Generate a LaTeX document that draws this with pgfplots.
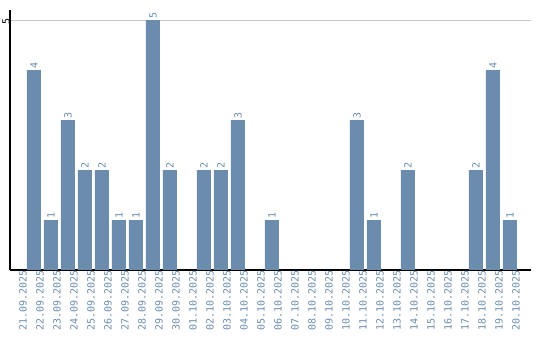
\documentclass[border=0pt]{standalone}
\usepackage{pgfplots}
\pgfplotsset{compat=1.18}
\usepackage{fontspec}
\setmonofont{DejaVu Sans Mono}
\definecolor{barc}{RGB}{107,140,173}
\definecolor{gridc}{RGB}{200,200,200}
\begin{document}
\begin{tikzpicture}
\path[use as bounding box] (0,0) rectangle (540bp,340bp);
\begin{axis}[
  at={(10bp,70bp)}, anchor=south west,
  scale only axis, width=521bp, height=260bp,
  xmin=-0.41, xmax=30.24, ymin=0, ymax=5.2,
  axis x line=bottom, axis y line=left,
  axis line style={-, black, line width=1.1pt},
  major tick length=0pt,
  ytick={5}, ymajorgrids, grid style={gridc, line width=0.8pt},
  xtick={0,...,29},
  xticklabels={21.09.2025,22.09.2025,23.09.2025,24.09.2025,25.09.2025,26.09.2025,27.09.2025,28.09.2025,29.09.2025,30.09.2025,01.10.2025,02.10.2025,03.10.2025,04.10.2025,05.10.2025,06.10.2025,07.10.2025,08.10.2025,09.10.2025,10.10.2025,11.10.2025,12.10.2025,13.10.2025,14.10.2025,15.10.2025,16.10.2025,17.10.2025,18.10.2025,19.10.2025,20.10.2025},
  x tick label style={rotate=90, anchor=east, font=\ttfamily\fontsize{10}{10}\selectfont, text=barc, inner sep=0pt, yshift=-6bp},
  y tick label style={rotate=90, anchor=south, font=\ttfamily\fontsize{10}{10}\selectfont, inner sep=0pt, xshift=-1bp},
  /pgf/number format/assume math mode=true,
  ybar, bar width=14bp, bar shift=0pt,
  nodes near coords,
  every node near coord/.append style={rotate=90, anchor=west, font=\ttfamily\fontsize{10}{10}\selectfont, text=barc, inner sep=1pt},
  y filter/.expression={y==0 ? nan : y},
]
\addplot[fill=barc, draw=none] coordinates {
(0,0) (1,4) (2,1) (3,3) (4,2) (5,2) (6,1) (7,1) (8,5) (9,2)
(10,0) (11,2) (12,2) (13,3) (14,0) (15,1) (16,0) (17,0) (18,0) (19,0)
(20,3) (21,1) (22,0) (23,2) (24,0) (25,0) (26,0) (27,2) (28,4) (29,1)
};
\end{axis}
\end{tikzpicture}
\end{document}
